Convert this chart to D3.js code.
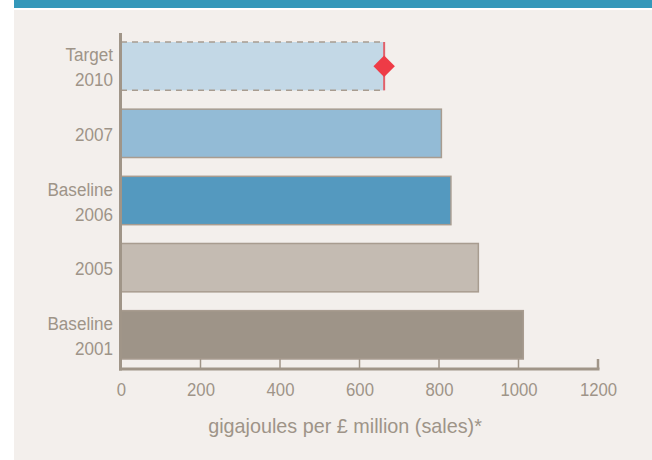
<!DOCTYPE html>
<html><head><meta charset="utf-8">
<script src="https://cdn.jsdelivr.net/npm/d3@7"></script>
<style>html,body{margin:0;padding:0;background:#fff;}svg{display:block;}</style>
</head><body>
<svg id="c" width="652" height="460"></svg>
<script>
const categories = [["Target","2010"],["2007"],["Baseline","2006"],["2005"],["Baseline","2001"]];
const values = [662, 806, 830, 899, 1012];
const fills = ["#c3d8e6","#93bbd6","#5499bf","#c4bbb2","#9e9488"];
const targetValue = 662;
const tickValues = [0,200,400,600,800,1000,1200];
const axisTitle = "gigajoules per £ million (sales)*";

const svg = d3.select("#c");
const W = 652, H = 460;
const txt = "#9e9488";
const axisCol = "#a09588";
const font = "'Liberation Sans',Arial,sans-serif";

function label(x, y, str, anchor, size, sx){
  const gg = svg.append("g").attr("transform",`translate(${x},${y}) scale(${sx},1)`);
  const t = gg.append("text").attr("x",0).attr("y",0).attr("text-anchor",anchor)
    .attr("fill",txt).style("font-family",font).style("font-size",size+"px").text(str);
  return {g:gg,t:t};
}

svg.append("rect").attr("x",14).attr("y",10).attr("width",W-14).attr("height",H-10).attr("fill","#f3efec");
svg.append("rect").attr("x",14).attr("y",0).attr("width",W-14).attr("height",8).attr("fill","#3498ba");

const x = d3.scaleLinear().domain([0,1200]).range([121,598]);
const y = d3.scaleBand().domain(d3.range(categories.length)).range([42,359]).paddingInner(0.28).paddingOuter(0);

const g = svg.append("g");
categories.forEach((c,i)=>{
  const r = g.append("rect")
    .attr("x",x(0)).attr("y",y(i))
    .attr("width",x(values[i])-x(0)).attr("height",y.bandwidth())
    .attr("fill",fills[i]);
  if(i===0){
    const x0=x(0), x1=x(values[i]), y0=y(i), y1=y(i)+y.bandwidth();
    g.append("path").attr("d",`M${x0},${y0}H${x1}M${x0},${y1}H${x1}`)
      .attr("stroke","#a89c90").attr("stroke-width",1.5).attr("stroke-dasharray","6,5").attr("fill","none");
  } else {
    r.attr("stroke","#a89c90").attr("stroke-width",1.5);
  }
});

g.append("line").attr("x1",x(targetValue)).attr("x2",x(targetValue))
  .attr("y1",y(0)).attr("y2",y(0)+y.bandwidth())
  .attr("stroke","#e2606a").attr("stroke-width",2);
g.append("path").attr("d",d3.symbol().type(d3.symbolSquare).size(230)())
  .attr("transform",`translate(${x(targetValue)},${y(0)+y.bandwidth()/2}) rotate(45)`)
  .attr("fill","#ee3b46");

g.append("line").attr("x1",120.5).attr("x2",120.5).attr("y1",33).attr("y2",370.5)
  .attr("stroke",axisCol).attr("stroke-width",3);

const xa = d3.axisBottom(x).tickValues(tickValues).tickSize(0).tickFormat(d3.format("d"));
const xg = svg.append("g").attr("transform","translate(0,369)").call(xa);
xg.select(".domain").remove();
xg.selectAll(".tick text").remove();
xg.selectAll(".tick").each(function(d){
  d3.select(this).append("g").attr("transform",`translate(0,26.5) scale(0.88,1)`)
    .append("text").attr("text-anchor","middle").attr("fill",txt)
    .style("font-family",font).style("font-size","19px").text(d3.format("d")(d));
});
svg.append("line").attr("x1",119).attr("x2",599.5).attr("y1",369).attr("y2",369)
  .attr("stroke",axisCol).attr("stroke-width",3);
svg.selectAll(".tk").data(tickValues.slice(1)).enter().append("line")
  .attr("x1",d=>x(d)).attr("x2",d=>x(d)).attr("y1",359).attr("y2",369)
  .attr("stroke",axisCol).attr("stroke-width",d=>d===1200?2.5:1.5);

categories.forEach((c,i)=>{
  const cy = y(i)+y.bandwidth()/2;
  const lh = 25;
  c.forEach((line,j)=>{
    label(113, cy + (j-(c.length-1)/2)*lh + 7.5, line, "end", 19, 0.9);
  });
});

const tt = label(345, 433, axisTitle, "middle", 20, 1);
const w = tt.t.node().getComputedTextLength();
tt.g.attr("transform",`translate(345,433) scale(${274/w},1)`);
</script>
</body></html>
